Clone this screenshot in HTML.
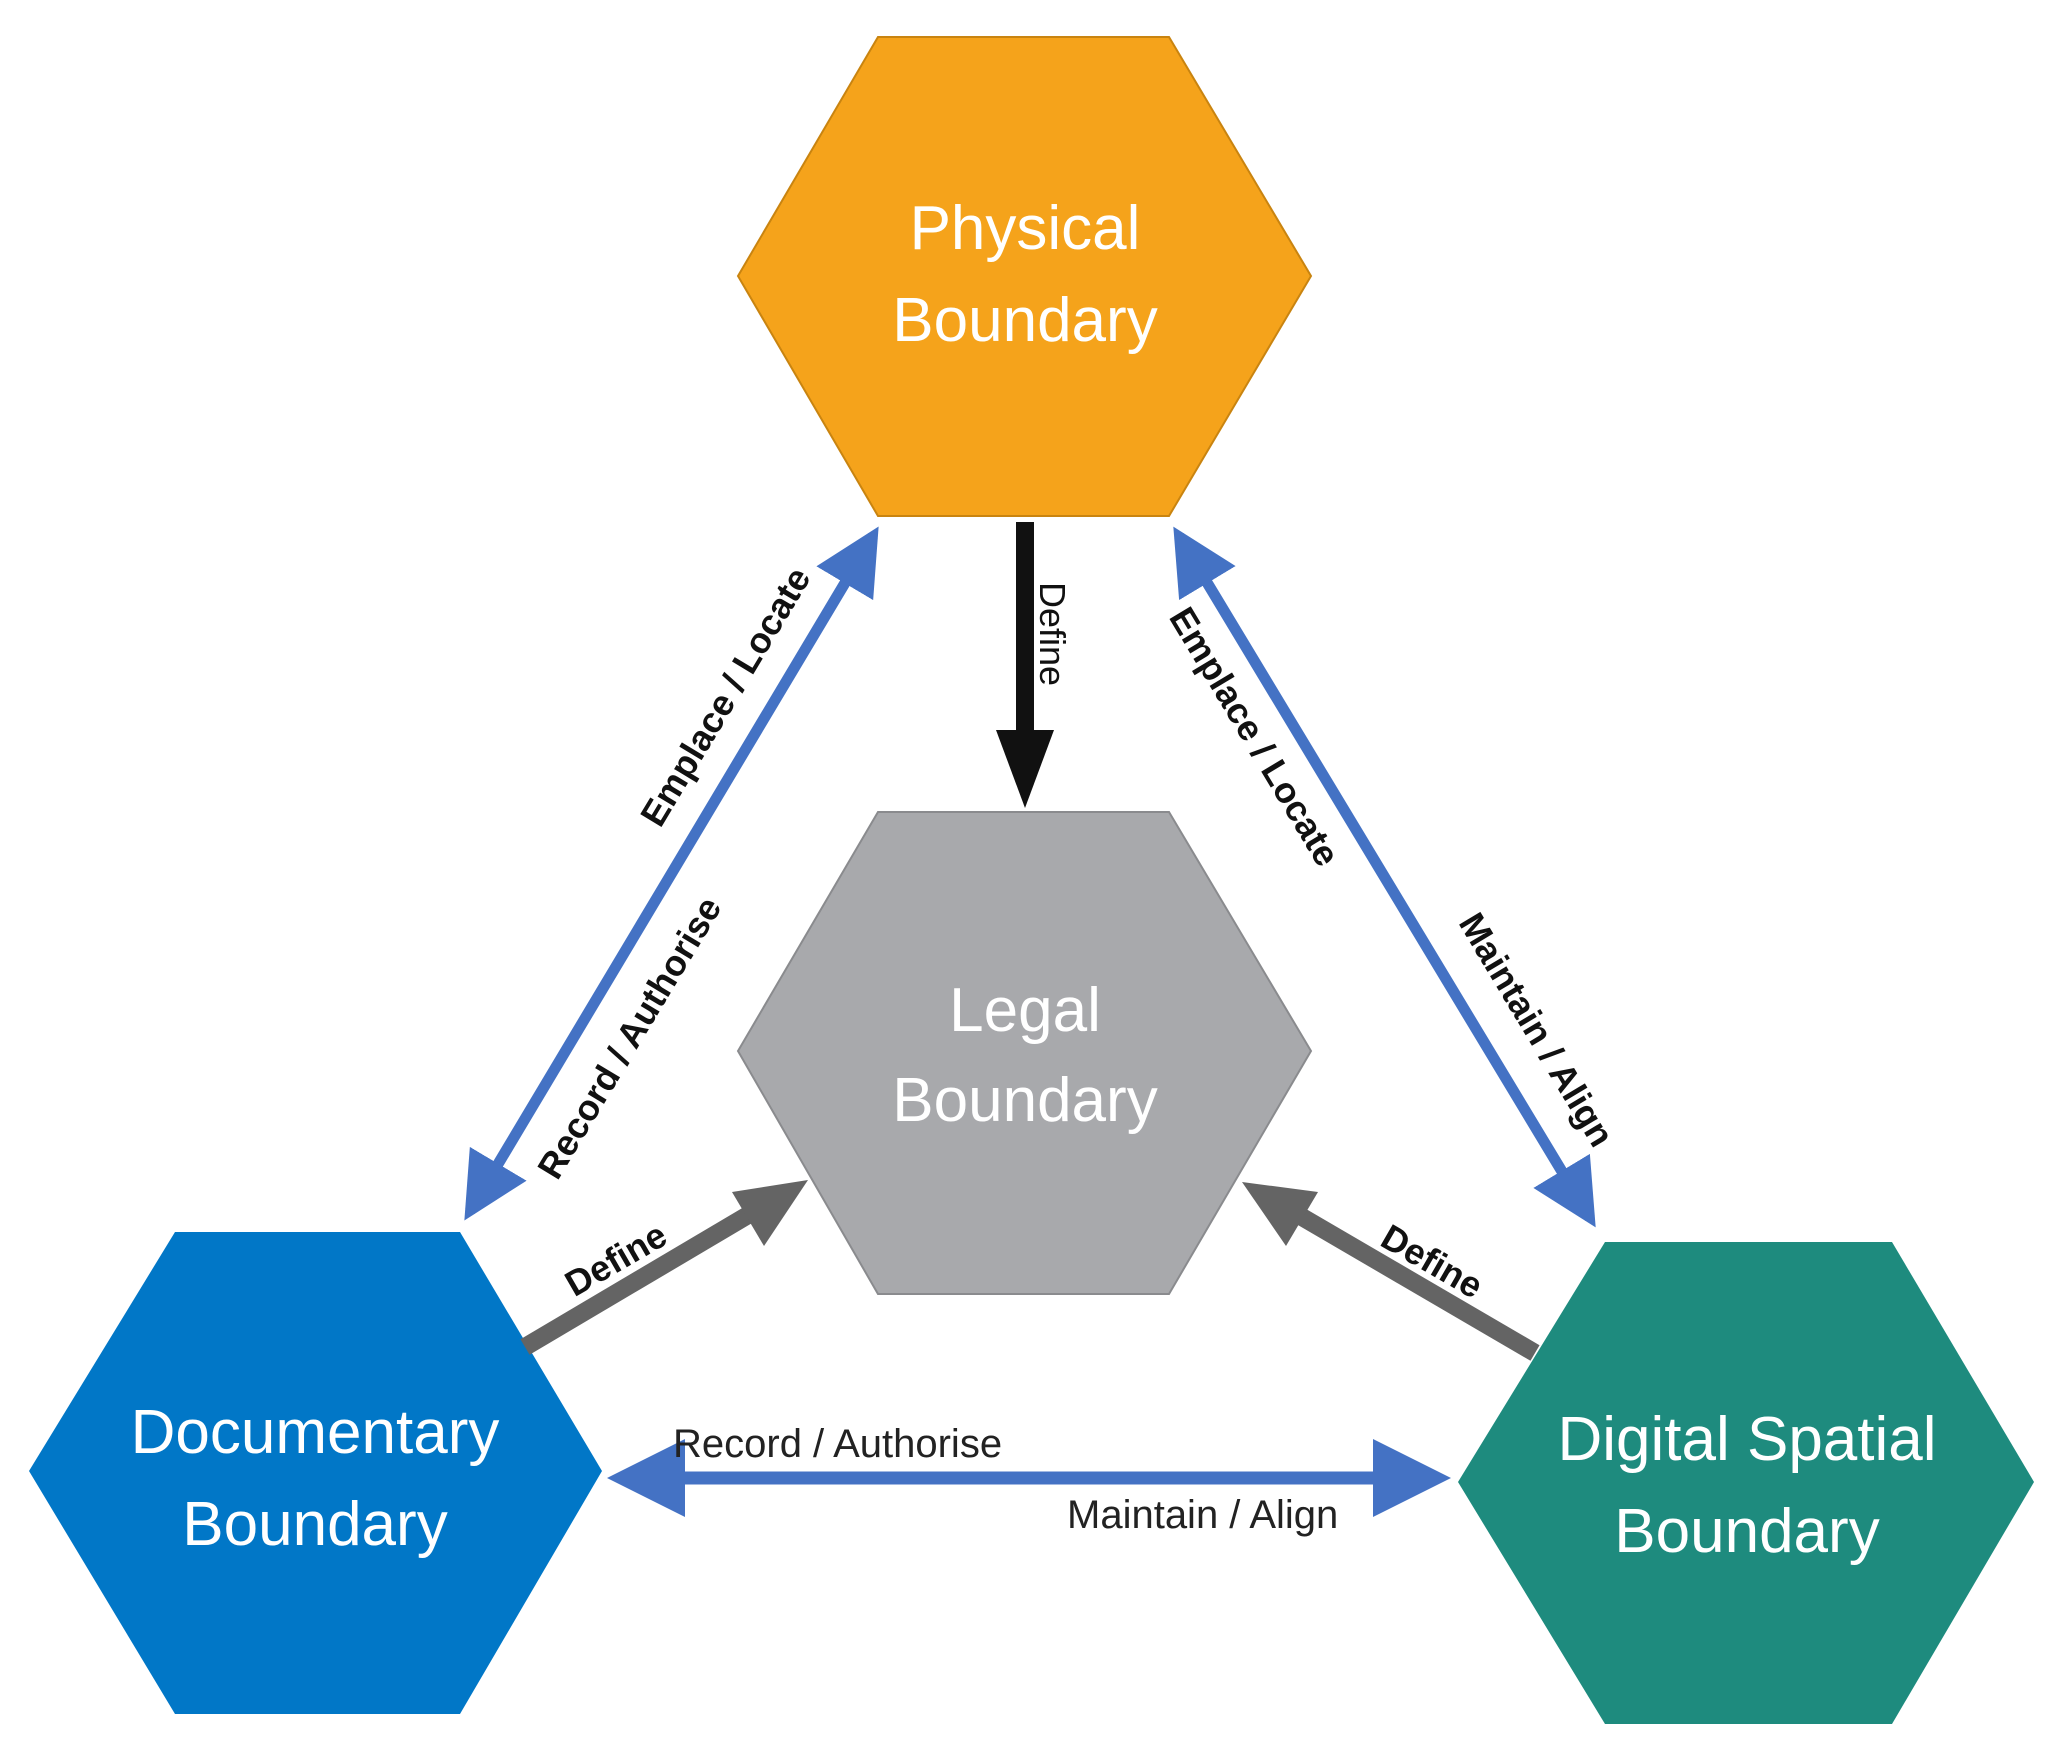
<!DOCTYPE html>
<html><head><meta charset="utf-8"><style>
html,body{margin:0;padding:0;background:#fff;}
svg{display:block;}
text{font-family:"Liberation Sans",sans-serif;}
</style></head><body>
<svg width="2060" height="1763" viewBox="0 0 2060 1763" xmlns="http://www.w3.org/2000/svg">
<defs>
<marker id="hb" markerWidth="6" markerHeight="6" refX="5" refY="3" orient="auto-start-reverse" markerUnits="strokeWidth"><path d="M0,0 L6,3 L0,6 Z" fill="#4472C4"/></marker>
</defs>
<!-- Hexagons -->
<polygon points="878,37 1169,37 1311,276 1169,516 878,516 738,276" fill="#F5A31B" stroke="#C98410" stroke-width="2"/>
<polygon points="878,812 1169,812 1311,1051 1169,1294 878,1294 738,1051" fill="#A8A9AC" stroke="#8a8b8e" stroke-width="2"/>
<polygon points="175,1232 460,1232 602,1471 460,1714 175,1714 29,1471" fill="#0177C7"/>
<polygon points="1605,1242 1892,1242 2034,1482 1892,1724 1605,1724 1458,1482" fill="#1E8B7E"/>
<!-- Hex labels -->
<g fill="#fff" font-size="62" text-anchor="middle">
<text x="1025" y="249">Physical</text>
<text x="1025" y="341">Boundary</text>
<text x="1025" y="1031">Legal</text>
<text x="1025" y="1121">Boundary</text>
<text x="315" y="1453">Documentary</text>
<text x="315" y="1545">Boundary</text>
<text x="1747" y="1460">Digital Spatial</text>
<text x="1747" y="1552">Boundary</text>
</g>
<!-- Black define arrow -->
<rect x="1016" y="522" width="18" height="210" fill="#111"/>
<polygon points="996,730 1054,730 1025,808" fill="#111"/>
<text transform="translate(1040,634) rotate(90)" font-size="36" text-anchor="middle" fill="#111">Define</text>
<!-- Blue diagonal arrows -->
<line x1="873" y1="536" x2="470" y2="1211" stroke="#4472C4" stroke-width="11" marker-start="url(#hb)" marker-end="url(#hb)"/>
<line x1="1179" y1="536" x2="1590" y2="1218" stroke="#4472C4" stroke-width="11" marker-start="url(#hb)" marker-end="url(#hb)"/>
<line x1="620" y1="1478" x2="1438" y2="1478" stroke="#4472C4" stroke-width="13" marker-start="url(#hb)" marker-end="url(#hb)"/>
<!-- Gray define arrows -->
<line x1="525" y1="1347" x2="760" y2="1208" stroke="#646464" stroke-width="18"/>
<polygon points="808,1180 732,1192 764,1246" fill="#646464"/>
<line x1="1535" y1="1353" x2="1290" y2="1210" stroke="#646464" stroke-width="18"/>
<polygon points="1242,1182 1286,1246 1318,1192" fill="#646464"/>
<!-- Labels -->
<g font-size="36" font-weight="bold" fill="#111" text-anchor="middle">
<text transform="translate(736,703) rotate(-59)">Emplace / Locate</text>
<text transform="translate(640,1044) rotate(-59)">Record / Authorise</text>
<text transform="translate(1244,743) rotate(59)">Emplace / Locate</text>
<text transform="translate(1526,1036) rotate(59)">Maintain / Align</text>
<text transform="translate(622,1270) rotate(-30)">Define</text>
<text transform="translate(1426,1272) rotate(30)">Define</text>
</g>
<g font-size="40" fill="#222">
<text x="673" y="1457">Record / Authorise</text>
<text x="1067" y="1528">Maintain / Align</text>
</g>
</svg>
</body></html>
